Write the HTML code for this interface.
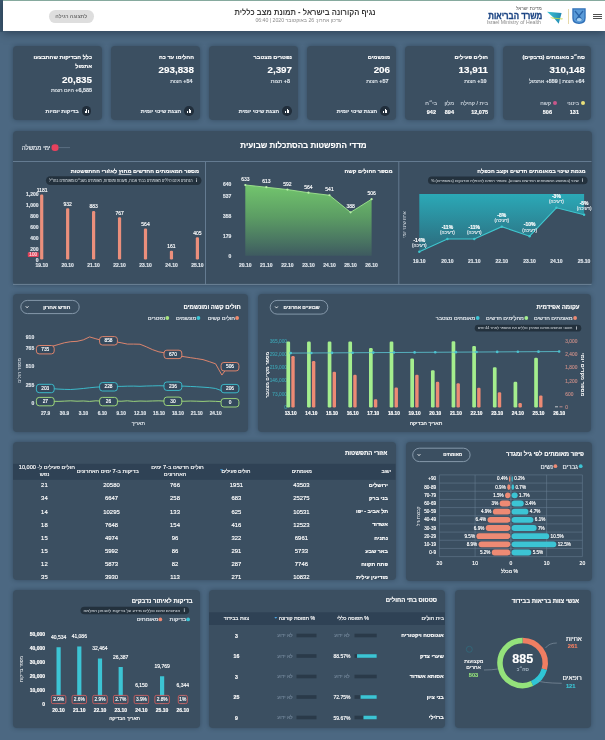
<!DOCTYPE html>
<html lang="he" dir="rtl">
<head>
<meta charset="utf-8">
<style>
*{box-sizing:border-box;margin:0;padding:0}
html,body{width:605px;height:740px;overflow:hidden}
body{background:#4c6882;font-family:"Liberation Sans","DejaVu Sans",sans-serif;color:#fff;position:relative}
.abs{position:absolute}
#hdr{position:absolute;left:3px;top:0;width:602px;height:31px;background:#fff;border-top:1px solid #86aa9e;box-shadow:0 2px 8px rgba(15,30,45,.5)}
.card{position:absolute;top:46px;width:89px;height:74px;background:#3b4f61;border-radius:4px;box-shadow:0 0 4px rgba(30,45,60,.5)}
.panel{position:absolute;background:#3b4f61;border-radius:4px;box-shadow:0 0 4px rgba(30,45,60,.5)}
.t{position:absolute;white-space:nowrap}
.ct{right:6px;top:7.4px;font-size:5.6px;font-weight:bold;line-height:8px}
.cn{right:6px;top:17.6px;font-size:9.8px;font-weight:bold;line-height:12px}
.cs{right:6px;top:32px;font-size:5.4px;color:#dfe6ec;line-height:6px}
.cb{position:absolute;right:6.5px;top:60px;height:10px;font-size:5.4px;font-weight:bold;color:#e8edf2;display:flex;align-items:center;gap:3px;white-space:nowrap}
.ic{width:9.4px;height:9.4px;border-radius:50%;background:#222f3c;display:inline-block;position:relative}
.ic i{position:absolute;bottom:2.8px;width:0.9px;background:#fff}
.cl{top:54px;font-size:5.5px;color:#c9d2db;line-height:7px}
.cv{top:62.8px;font-size:5.5px;font-weight:bold;line-height:7px}
.dot{display:inline-block;width:4px;height:4px;border-radius:50%;margin-left:2px;vertical-align:0}
.card .t,.cb{-webkit-text-stroke:0.15px currentColor}
svg text{font-family:"Liberation Sans","DejaVu Sans",sans-serif}
</style>
</head>
<body>
<div class="abs" style="left:0;top:0;width:3px;height:32px;background:#3d5870"></div>
<div id="hdr">
  <div class="t" style="right:229.4px;top:6px;font-size:8.4px;line-height:11px;font-weight:bold;color:#3b3b3b;transform:scaleX(0.907);transform-origin:right center">נגיף הקורונה בישראל - תמונת מצב כללית</div>
  <div class="t" style="right:263.2px;top:16.1px;font-size:5.2px;line-height:7px;color:#8a8a8a">עדכון אחרון: 26 באוקטובר 2020 | 06:40</div>
  <div class="t" style="left:45.7px;top:9.1px;width:45.1px;height:12.7px;border-radius:6.4px;background:#dedede;color:#6e6e6e;font-size:5.2px;font-weight:bold;text-align:center;line-height:12.7px">לתצוגה רגילה</div>
  <div class="t" style="right:63.2px;top:4.5px;font-size:4.7px;line-height:6px;color:#555">מדינת ישראל</div>
  <div class="t" style="right:62.3px;top:9.3px;font-size:9.4px;line-height:11.6px;font-weight:bold;color:#1c4584;-webkit-text-stroke:0.35px #1c4584;transform:scaleX(0.84);transform-origin:right center">משרד הבריאות</div>
  <div class="t" style="right:64.1px;top:17.8px;font-size:5.2px;line-height:6.6px;color:#8a8a8a;direction:ltr">Israel Ministry of Health</div>
  <svg class="abs" style="left:542px;top:8px" width="20" height="17" viewBox="0 0 20 17">
    <defs><linearGradient id="bg1" x1="0" y1="0" x2="1" y2="0"><stop offset="0" stop-color="#3cc3d3"/><stop offset="1" stop-color="#2288b2"/></linearGradient></defs>
    <path d="M2 2.8 L16.6 4 L13.7 14.8 L8.5 8.6 Z" fill="url(#bg1)"/>
    <path d="M5 8.2 L18 9.6 L17.2 10.4 L7 9.4 Z" fill="#c2d84a" opacity="0.85"/>
  </svg>
  <div class="abs" style="left:564.6px;top:7.5px;width:0.8px;height:15.5px;background:#e6d9a8"></div>
  <svg class="abs" style="left:568.8px;top:7.3px" width="14" height="16.2" viewBox="0 0 14 16.2">
    <path d="M0.3 0.3 H13.7 V10 Q13.7 15.8 7 16 Q0.3 15.8 0.3 10 Z" fill="#2f6fb7"/>
    <path d="M1.6 1.6 H12.4 V9.8 Q12.4 14.5 7 14.7 Q1.6 14.5 1.6 9.8 Z" fill="#5a9bd8"/>
    <path d="M3 3 L7 8 L11 3 M7 8 L4 12 M7 8 L10 12" stroke="#2a64a8" stroke-width="1.3" fill="none"/>
    <ellipse cx="7.3" cy="11.6" rx="2.6" ry="1.6" fill="#a9d2f2"/>
  </svg>
  <div class="abs" style="left:590px;top:12.7px;width:9px;height:1.3px;background:#505050"></div>
  <div class="abs" style="left:590px;top:14.9px;width:9px;height:1.3px;background:#505050"></div>
  <div class="abs" style="left:590px;top:17.2px;width:9px;height:1.3px;background:#505050"></div>
</div>

<div class="card" style="left:13px">
  <div class="t ct" style="right:10px;top:7px;line-height:9.4px;text-align:right">כלל הבדיקות שהתבצעו<br>אתמול</div>
  <div class="t cn" style="right:10px;top:27.6px">20,835</div>
  <div class="t cs" style="right:10px;top:41.4px"><b dir="ltr">+6,585</b> היום חצות</div>
  <div class="cb" style="right:11px"><span class="ic"><i style="left:3.1px;height:2px"></i><i style="left:4.7px;height:4.2px"></i><i style="left:6.3px;height:3px"></i></span><span>בדיקות יומיות</span></div>
</div>
<div class="card" style="left:111px">
  <div class="t ct">החלימו עד כה</div>
  <div class="t cn">293,838</div>
  <div class="t cs" style="right:7.5px"><b dir="ltr">+54</b> חצות</div>
  <div class="cb"><span class="ic"><i style="left:3.1px;height:2px"></i><i style="left:4.7px;height:4.2px"></i><i style="left:6.3px;height:3px"></i></span><span>הצגת שינוי יומית</span></div>
</div>
<div class="card" style="left:209px">
  <div class="t ct">נפטרים מצטבר</div>
  <div class="t cn">2,397</div>
  <div class="t cs" style="right:8px"><b dir="ltr">+8</b> חצות</div>
  <div class="cb"><span class="ic"><i style="left:3.1px;height:2px"></i><i style="left:4.7px;height:4.2px"></i><i style="left:6.3px;height:3px"></i></span><span>הצגת שינוי יומית</span></div>
</div>
<div class="card" style="left:307px">
  <div class="t ct">מונשמים</div>
  <div class="t cn">206</div>
  <div class="t cs" style="right:7.5px"><b dir="ltr">+57</b> חצות</div>
  <div class="cb"><span class="ic"><i style="left:3.1px;height:2px"></i><i style="left:4.7px;height:4.2px"></i><i style="left:6.3px;height:3px"></i></span><span>הצגת שינוי יומית</span></div>
</div>
<div class="card" style="left:405px">
  <div class="t ct">חולים פעילים</div>
  <div class="t cn">13,911</div>
  <div class="t cs" style="right:7.5px"><b dir="ltr">+10</b> חצות</div>
  <div class="t cl" style="right:6px">בית / קהילה</div><div class="t cv" style="right:6px">12,075</div>
  <div class="t cl" style="right:40px">מלון</div><div class="t cv" style="right:40px">894</div>
  <div class="t cl" style="right:57px">בי״ח</div><div class="t cv" style="right:58px">942</div>
</div>
<div class="card" style="left:503px;width:88px">
  <div class="t ct">סה״כ מאומתים (נדבקים)</div>
  <div class="t cn">310,148</div>
  <div class="t cs" style="right:6.5px"><b dir="ltr">+64</b> חצות | <b dir="ltr">+559</b> אתמול</div>
  <div class="t cl" style="right:6px"><span class="dot" style="background:#e9e07a"></span>בינוני</div><div class="t cv" style="right:12px">131</div>
  <div class="t cl" style="right:34px"><span class="dot" style="background:#c9578a"></span>קשה</div><div class="t cv" style="right:39px">506</div>
</div>

<div class="panel" style="left:13px;top:130.5px;width:578.5px;height:154.5px"></div>
<div class="panel" style="left:13px;top:294px;width:234.5px;height:138px"></div>
<div class="panel" style="left:257.8px;top:294px;width:333.7px;height:138px"></div>
<div class="panel" style="left:13px;top:442.3px;width:382.5px;height:138px"></div>
<div class="panel" style="left:405.5px;top:442.3px;width:186px;height:138.3px"></div>
<div class="panel" style="left:13px;top:589.7px;width:186.8px;height:138px"></div>
<div class="panel" style="left:209px;top:589.7px;width:235.9px;height:138px"></div>
<div class="panel" style="left:454.8px;top:589.7px;width:136.7px;height:138.3px"></div>
<!--OV--><svg class="abs" style="left:0;top:0;direction:ltr" direction="ltr" width="605" height="740" viewBox="0 0 605 740"><defs><linearGradient id="ggr" x1="0" y1="0" x2="0" y2="1"><stop offset="0" stop-color="#72c56d"/><stop offset="0.45" stop-color="#5c9d64"/><stop offset="0.8" stop-color="#497462"/><stop offset="1" stop-color="#3e5a60"/></linearGradient><linearGradient id="tgr" x1="0" y1="0" x2="0" y2="1"><stop offset="0" stop-color="#2ba9b7"/><stop offset="1" stop-color="#2c697b"/></linearGradient></defs><text x="303.50" y="145.60" font-size="8" fill="#ffffff" stroke="#ffffff" stroke-width="0.15" text-anchor="middle" direction="rtl" dominant-baseline="central" font-weight="bold">מדדי התפשטות בהסתכלות שבועית</text><rect x="51.50" y="144.30" width="7.10" height="6.60" rx="3.2" fill="#e8415d"/><line x1="58.6" y1="147.6" x2="70" y2="147.6" stroke="#7b8fa2" stroke-width="0.5"/><text x="50.40" y="147.20" font-size="6.1" fill="#e6ebf0" stroke="#e6ebf0" stroke-width="0.15" text-anchor="start" direction="rtl" dominant-baseline="central">ימי ממשלה</text><line x1="13" y1="161.5" x2="591.5" y2="161.5" stroke="#647b91" stroke-width="1"/><line x1="205.5" y1="161.5" x2="205.5" y2="284.4" stroke="#647b91" stroke-width="1"/><line x1="398.8" y1="161.5" x2="398.8" y2="284.4" stroke="#647b91" stroke-width="1"/><line x1="13" y1="284.4" x2="591.5" y2="284.4" stroke="#6d8398" stroke-width="1"/><text x="199.00" y="171.10" font-size="5.6" fill="#ffffff" stroke="#ffffff" stroke-width="0.15" text-anchor="start" direction="rtl" dominant-baseline="central" font-weight="bold">מספר המאומתים החדשים <tspan text-decoration="underline">מחוץ</tspan> לאזורי ההתפשטות</text><rect x="45.90" y="176.30" width="155.60" height="8.60" rx="4.3" fill="#222f3b" opacity="0.92"/><rect x="196.20" y="179.40" width="0.7" height="2.6" fill="#e8edf2"/><rect x="196.20" y="178.40" width="0.7" height="0.6" fill="#e8edf2"/><text x="192.50" y="180.60" font-size="4.2" fill="#e3e9ee" text-anchor="end" dominant-baseline="central" textLength="143.60" lengthAdjust="spacingAndGlyphs">הנתונים אינם כוללים מאומתים בבתי אבות, מעונות ומוסדות, מאומתים בשב״ס ומאומתים בחו״ל</text><text x="38.50" y="259.50" font-size="5" fill="#dfe5eb" stroke="#dfe5eb" stroke-width="0.15" text-anchor="end" dominant-baseline="central" font-weight="bold">0</text><text x="38.50" y="248.50" font-size="5" fill="#dfe5eb" stroke="#dfe5eb" stroke-width="0.15" text-anchor="end" dominant-baseline="central" font-weight="bold">200</text><text x="38.50" y="237.50" font-size="5" fill="#dfe5eb" stroke="#dfe5eb" stroke-width="0.15" text-anchor="end" dominant-baseline="central" font-weight="bold">400</text><text x="38.50" y="226.50" font-size="5" fill="#dfe5eb" stroke="#dfe5eb" stroke-width="0.15" text-anchor="end" dominant-baseline="central" font-weight="bold">600</text><text x="38.50" y="215.50" font-size="5" fill="#dfe5eb" stroke="#dfe5eb" stroke-width="0.15" text-anchor="end" dominant-baseline="central" font-weight="bold">800</text><text x="38.50" y="204.50" font-size="5" fill="#dfe5eb" stroke="#dfe5eb" stroke-width="0.15" text-anchor="end" dominant-baseline="central" font-weight="bold">1,000</text><text x="38.50" y="193.50" font-size="5" fill="#dfe5eb" stroke="#dfe5eb" stroke-width="0.15" text-anchor="end" dominant-baseline="central" font-weight="bold">1,200</text><rect x="27.80" y="252.20" width="10.90" height="4.80" rx="0.8" fill="#e0435a"/><text x="33.20" y="254.60" font-size="4.6" fill="#ffd8de" stroke="#ffd8de" stroke-width="0.15" text-anchor="middle" dominant-baseline="central">100</text><rect x="40.10" y="194.55" width="3.20" height="64.95" rx="1.2" fill="#eb8f7c"/><text x="42.20" y="190.05" font-size="5" fill="#ffffff" stroke="#ffffff" stroke-width="0.15" text-anchor="middle" dominant-baseline="central">1181</text><text x="41.70" y="264.80" font-size="5" fill="#dfe5eb" stroke="#dfe5eb" stroke-width="0.15" text-anchor="middle" dominant-baseline="central" font-weight="bold">19.10</text><rect x="66.05" y="208.24" width="3.20" height="51.26" rx="1.2" fill="#eb8f7c"/><text x="67.65" y="203.74" font-size="5" fill="#ffffff" stroke="#ffffff" stroke-width="0.15" text-anchor="middle" dominant-baseline="central">932</text><text x="67.65" y="264.80" font-size="5" fill="#dfe5eb" stroke="#dfe5eb" stroke-width="0.15" text-anchor="middle" dominant-baseline="central" font-weight="bold">20.10</text><rect x="92.00" y="210.94" width="3.20" height="48.56" rx="1.2" fill="#eb8f7c"/><text x="93.60" y="206.44" font-size="5" fill="#ffffff" stroke="#ffffff" stroke-width="0.15" text-anchor="middle" dominant-baseline="central">883</text><text x="93.60" y="264.80" font-size="5" fill="#dfe5eb" stroke="#dfe5eb" stroke-width="0.15" text-anchor="middle" dominant-baseline="central" font-weight="bold">21.10</text><rect x="117.95" y="217.31" width="3.20" height="42.19" rx="1.2" fill="#eb8f7c"/><text x="119.55" y="212.81" font-size="5" fill="#ffffff" stroke="#ffffff" stroke-width="0.15" text-anchor="middle" dominant-baseline="central">767</text><text x="119.55" y="264.80" font-size="5" fill="#dfe5eb" stroke="#dfe5eb" stroke-width="0.15" text-anchor="middle" dominant-baseline="central" font-weight="bold">22.10</text><rect x="143.90" y="228.48" width="3.20" height="31.02" rx="1.2" fill="#eb8f7c"/><text x="145.50" y="223.98" font-size="5" fill="#ffffff" stroke="#ffffff" stroke-width="0.15" text-anchor="middle" dominant-baseline="central">564</text><text x="145.50" y="264.80" font-size="5" fill="#dfe5eb" stroke="#dfe5eb" stroke-width="0.15" text-anchor="middle" dominant-baseline="central" font-weight="bold">23.10</text><rect x="169.85" y="250.65" width="3.20" height="8.85" rx="1.2" fill="#eb8f7c"/><text x="171.45" y="246.15" font-size="5" fill="#ffffff" stroke="#ffffff" stroke-width="0.15" text-anchor="middle" dominant-baseline="central">161</text><text x="171.45" y="264.80" font-size="5" fill="#dfe5eb" stroke="#dfe5eb" stroke-width="0.15" text-anchor="middle" dominant-baseline="central" font-weight="bold">24.10</text><rect x="195.80" y="237.22" width="3.20" height="22.28" rx="1.2" fill="#eb8f7c"/><text x="197.40" y="232.72" font-size="5" fill="#ffffff" stroke="#ffffff" stroke-width="0.15" text-anchor="middle" dominant-baseline="central">405</text><text x="197.40" y="264.80" font-size="5" fill="#dfe5eb" stroke="#dfe5eb" stroke-width="0.15" text-anchor="middle" dominant-baseline="central" font-weight="bold">25.10</text><text x="392.50" y="171.10" font-size="5.6" fill="#ffffff" stroke="#ffffff" stroke-width="0.15" text-anchor="start" direction="rtl" dominant-baseline="central" font-weight="bold">מספר החולים קשה</text><text x="231.40" y="255.70" font-size="5" fill="#dfe5eb" stroke="#dfe5eb" stroke-width="0.15" text-anchor="end" dominant-baseline="central" font-weight="bold">0</text><text x="231.40" y="235.70" font-size="5" fill="#dfe5eb" stroke="#dfe5eb" stroke-width="0.15" text-anchor="end" dominant-baseline="central" font-weight="bold">179</text><text x="231.40" y="215.70" font-size="5" fill="#dfe5eb" stroke="#dfe5eb" stroke-width="0.15" text-anchor="end" dominant-baseline="central" font-weight="bold">358</text><text x="231.40" y="195.71" font-size="5" fill="#dfe5eb" stroke="#dfe5eb" stroke-width="0.15" text-anchor="end" dominant-baseline="central" font-weight="bold">537</text><text x="231.40" y="184.20" font-size="5" fill="#dfe5eb" stroke="#dfe5eb" stroke-width="0.15" text-anchor="end" dominant-baseline="central" font-weight="bold">640</text><path d="M245.30 184.98 L266.35 187.22 L287.40 189.56 L308.45 192.69 L329.50 195.26 L350.55 212.35 L371.60 199.17 L371.60 255.7 L245.30 255.7 Z" fill="url(#ggr)"/><path d="M245.30 184.98 L266.35 187.22 L287.40 189.56 L308.45 192.69 L329.50 195.26 L350.55 212.35 L371.60 199.17" fill="none" stroke="#9fe38f" stroke-width="0.9"/><circle cx="245.30" cy="184.98" r="1.1" fill="#b9f0a8"/><text x="245.30" y="178.98" font-size="5" fill="#ffffff" stroke="#ffffff" stroke-width="0.15" text-anchor="middle" dominant-baseline="central">633</text><text x="245.30" y="264.70" font-size="5" fill="#dfe5eb" stroke="#dfe5eb" stroke-width="0.15" text-anchor="middle" dominant-baseline="central" font-weight="bold">20.10</text><circle cx="266.35" cy="187.22" r="1.1" fill="#b9f0a8"/><text x="266.35" y="181.22" font-size="5" fill="#ffffff" stroke="#ffffff" stroke-width="0.15" text-anchor="middle" dominant-baseline="central">613</text><text x="266.35" y="264.70" font-size="5" fill="#dfe5eb" stroke="#dfe5eb" stroke-width="0.15" text-anchor="middle" dominant-baseline="central" font-weight="bold">21.10</text><circle cx="287.40" cy="189.56" r="1.1" fill="#b9f0a8"/><text x="287.40" y="183.56" font-size="5" fill="#ffffff" stroke="#ffffff" stroke-width="0.15" text-anchor="middle" dominant-baseline="central">592</text><text x="287.40" y="264.70" font-size="5" fill="#dfe5eb" stroke="#dfe5eb" stroke-width="0.15" text-anchor="middle" dominant-baseline="central" font-weight="bold">22.10</text><circle cx="308.45" cy="192.69" r="1.1" fill="#b9f0a8"/><text x="308.45" y="186.69" font-size="5" fill="#ffffff" stroke="#ffffff" stroke-width="0.15" text-anchor="middle" dominant-baseline="central">564</text><text x="308.45" y="264.70" font-size="5" fill="#dfe5eb" stroke="#dfe5eb" stroke-width="0.15" text-anchor="middle" dominant-baseline="central" font-weight="bold">23.10</text><circle cx="329.50" cy="195.26" r="1.1" fill="#b9f0a8"/><text x="329.50" y="189.26" font-size="5" fill="#ffffff" stroke="#ffffff" stroke-width="0.15" text-anchor="middle" dominant-baseline="central">541</text><text x="329.50" y="264.70" font-size="5" fill="#dfe5eb" stroke="#dfe5eb" stroke-width="0.15" text-anchor="middle" dominant-baseline="central" font-weight="bold">24.10</text><circle cx="350.55" cy="212.35" r="1.1" fill="#b9f0a8"/><text x="350.55" y="206.35" font-size="5" fill="#ffffff" stroke="#ffffff" stroke-width="0.15" text-anchor="middle" dominant-baseline="central">388</text><text x="350.55" y="264.70" font-size="5" fill="#dfe5eb" stroke="#dfe5eb" stroke-width="0.15" text-anchor="middle" dominant-baseline="central" font-weight="bold">25.10</text><circle cx="371.60" cy="199.17" r="1.1" fill="#b9f0a8"/><text x="371.60" y="193.17" font-size="5" fill="#ffffff" stroke="#ffffff" stroke-width="0.15" text-anchor="middle" dominant-baseline="central">506</text><text x="371.60" y="264.70" font-size="5" fill="#dfe5eb" stroke="#dfe5eb" stroke-width="0.15" text-anchor="middle" dominant-baseline="central" font-weight="bold">26.10</text><text x="585.70" y="171.00" font-size="5.6" fill="#ffffff" stroke="#ffffff" stroke-width="0.15" text-anchor="start" direction="rtl" dominant-baseline="central" font-weight="bold">מגמת שינוי במאומתים חדשים וקצב הכפלה</text><rect x="428.00" y="176.60" width="159.60" height="7.60" rx="3.8" fill="#222f3b" opacity="0.92"/><rect x="582.30" y="179.20" width="0.7" height="2.6" fill="#e8edf2"/><rect x="582.30" y="178.20" width="0.7" height="0.6" fill="#e8edf2"/><text x="578.60" y="180.40" font-size="4.0" fill="#e3e9ee" text-anchor="end" dominant-baseline="central" textLength="147.60" lengthAdjust="spacingAndGlyphs">% שינוי (בממוצע המאומתים החדשים בשבוע), ומספר הימים להכפלת הנדבקים (במספרים)</text><text transform="translate(404.50,224.60) rotate(-90)" font-size="4.55" fill="#dfe5eb" text-anchor="middle" dominant-baseline="central">אחוז שינוי יומי</text><path d="M419.3 193.9 L584.1 193.9 L584.10 214.80 L556.40 207.80 L529.60 236.20 L501.80 226.70 L474.30 239.00 L447.40 239.00 L419.30 251.70 Z" fill="url(#tgr)"/><path d="M419.30 251.70 L447.40 239.00 L474.30 239.00 L501.80 226.70 L529.60 236.20 L556.40 207.80 L584.10 214.80" fill="none" stroke="#3fc7cf" stroke-width="1.1"/><circle cx="419.30" cy="251.70" r="1.2" fill="#3fc7cf"/><text x="419.30" y="239.70" font-size="5" fill="#ffffff" stroke="#ffffff" stroke-width="0.15" text-anchor="middle" dominant-baseline="central" font-weight="bold">-14%</text><text x="419.30" y="245.50" font-size="4.6" fill="#e5ebf0" stroke="#e5ebf0" stroke-width="0.15" text-anchor="middle" direction="rtl" dominant-baseline="central">(דעיכה)</text><text x="419.30" y="260.60" font-size="5" fill="#dfe5eb" stroke="#dfe5eb" stroke-width="0.15" text-anchor="middle" dominant-baseline="central" font-weight="bold">19.10</text><circle cx="447.40" cy="239.00" r="1.2" fill="#3fc7cf"/><text x="447.40" y="227.00" font-size="5" fill="#ffffff" stroke="#ffffff" stroke-width="0.15" text-anchor="middle" dominant-baseline="central" font-weight="bold">-11%</text><text x="447.40" y="232.80" font-size="4.6" fill="#e5ebf0" stroke="#e5ebf0" stroke-width="0.15" text-anchor="middle" direction="rtl" dominant-baseline="central">(דעיכה)</text><text x="447.40" y="260.60" font-size="5" fill="#dfe5eb" stroke="#dfe5eb" stroke-width="0.15" text-anchor="middle" dominant-baseline="central" font-weight="bold">20.10</text><circle cx="474.30" cy="239.00" r="1.2" fill="#3fc7cf"/><text x="474.30" y="227.00" font-size="5" fill="#ffffff" stroke="#ffffff" stroke-width="0.15" text-anchor="middle" dominant-baseline="central" font-weight="bold">-11%</text><text x="474.30" y="232.80" font-size="4.6" fill="#e5ebf0" stroke="#e5ebf0" stroke-width="0.15" text-anchor="middle" direction="rtl" dominant-baseline="central">(דעיכה)</text><text x="474.30" y="260.60" font-size="5" fill="#dfe5eb" stroke="#dfe5eb" stroke-width="0.15" text-anchor="middle" dominant-baseline="central" font-weight="bold">21.10</text><circle cx="501.80" cy="226.70" r="1.2" fill="#3fc7cf"/><text x="501.80" y="214.70" font-size="5" fill="#ffffff" stroke="#ffffff" stroke-width="0.15" text-anchor="middle" dominant-baseline="central" font-weight="bold">-8%</text><text x="501.80" y="220.50" font-size="4.6" fill="#e5ebf0" stroke="#e5ebf0" stroke-width="0.15" text-anchor="middle" direction="rtl" dominant-baseline="central">(דעיכה)</text><text x="501.80" y="260.60" font-size="5" fill="#dfe5eb" stroke="#dfe5eb" stroke-width="0.15" text-anchor="middle" dominant-baseline="central" font-weight="bold">22.10</text><circle cx="529.60" cy="236.20" r="1.2" fill="#3fc7cf"/><text x="529.60" y="224.20" font-size="5" fill="#ffffff" stroke="#ffffff" stroke-width="0.15" text-anchor="middle" dominant-baseline="central" font-weight="bold">-10%</text><text x="529.60" y="230.00" font-size="4.6" fill="#e5ebf0" stroke="#e5ebf0" stroke-width="0.15" text-anchor="middle" direction="rtl" dominant-baseline="central">(דעיכה)</text><text x="529.60" y="260.60" font-size="5" fill="#dfe5eb" stroke="#dfe5eb" stroke-width="0.15" text-anchor="middle" dominant-baseline="central" font-weight="bold">23.10</text><circle cx="556.40" cy="207.80" r="1.2" fill="#3fc7cf"/><text x="556.40" y="195.80" font-size="5" fill="#ffffff" stroke="#ffffff" stroke-width="0.15" text-anchor="middle" dominant-baseline="central" font-weight="bold">-3%</text><text x="556.40" y="201.60" font-size="4.6" fill="#e5ebf0" stroke="#e5ebf0" stroke-width="0.15" text-anchor="middle" direction="rtl" dominant-baseline="central">(דעיכה)</text><text x="556.40" y="260.60" font-size="5" fill="#dfe5eb" stroke="#dfe5eb" stroke-width="0.15" text-anchor="middle" dominant-baseline="central" font-weight="bold">24.10</text><circle cx="584.10" cy="214.80" r="1.2" fill="#3fc7cf"/><text x="584.10" y="202.80" font-size="5" fill="#ffffff" stroke="#ffffff" stroke-width="0.15" text-anchor="middle" dominant-baseline="central" font-weight="bold">-5%</text><text x="584.10" y="208.60" font-size="4.6" fill="#e5ebf0" stroke="#e5ebf0" stroke-width="0.15" text-anchor="middle" direction="rtl" dominant-baseline="central">(דעיכה)</text><text x="584.10" y="260.60" font-size="5" fill="#dfe5eb" stroke="#dfe5eb" stroke-width="0.15" text-anchor="middle" dominant-baseline="central" font-weight="bold">25.10</text><text x="240.80" y="307.00" font-size="6" fill="#ffffff" stroke="#ffffff" stroke-width="0.15" text-anchor="start" direction="rtl" dominant-baseline="central" font-weight="bold">חולים קשה ומונשמים</text><circle cx="237.10" cy="318.00" r="1.9" fill="#f08a6c"/><text x="235.00" y="317.80" font-size="5.6" fill="#e9eef3" stroke="#e9eef3" stroke-width="0.15" text-anchor="start" direction="rtl" dominant-baseline="central">חולים קשים</text><circle cx="198.40" cy="318.00" r="1.9" fill="#3cc4d4"/><text x="196.30" y="317.80" font-size="5.6" fill="#e9eef3" stroke="#e9eef3" stroke-width="0.15" text-anchor="start" direction="rtl" dominant-baseline="central">מונשמים</text><circle cx="167.30" cy="318.00" r="1.9" fill="#a6e27e"/><text x="165.10" y="317.80" font-size="5.6" fill="#e9eef3" stroke="#e9eef3" stroke-width="0.15" text-anchor="start" direction="rtl" dominant-baseline="central">נפטרים</text><rect x="20.80" y="300.40" width="58.40" height="13.20" rx="6.600000000000023" fill="none" stroke="#8da0b2" stroke-width="0.9"/><text x="70.30" y="306.80" font-size="5.2" fill="#ffffff" stroke="#ffffff" stroke-width="0.15" text-anchor="start" direction="rtl" dominant-baseline="central" font-weight="bold">חודש אחרון</text><path d="M25.70 306.20 L27.10 307.80 L28.50 306.20" stroke="#fff" stroke-width="0.8" fill="none"/><text x="34.20" y="403.00" font-size="5" fill="#dfe5eb" stroke="#dfe5eb" stroke-width="0.15" text-anchor="end" dominant-baseline="central" font-weight="bold">0</text><text x="34.20" y="384.50" font-size="5" fill="#dfe5eb" stroke="#dfe5eb" stroke-width="0.15" text-anchor="end" dominant-baseline="central" font-weight="bold">255</text><text x="34.20" y="366.00" font-size="5" fill="#dfe5eb" stroke="#dfe5eb" stroke-width="0.15" text-anchor="end" dominant-baseline="central" font-weight="bold">510</text><text x="34.20" y="347.50" font-size="5" fill="#dfe5eb" stroke="#dfe5eb" stroke-width="0.15" text-anchor="end" dominant-baseline="central" font-weight="bold">765</text><text x="34.20" y="336.98" font-size="5" fill="#dfe5eb" stroke="#dfe5eb" stroke-width="0.15" text-anchor="end" dominant-baseline="central" font-weight="bold">910</text><text transform="translate(19.90,370.60) rotate(-90)" font-size="4.85" fill="#dfe5eb" text-anchor="middle" dominant-baseline="central">מספר חולים</text><text x="45.60" y="413.50" font-size="4.8" fill="#dfe5eb" stroke="#dfe5eb" stroke-width="0.15" text-anchor="middle" dominant-baseline="central" font-weight="bold">27.9</text><text x="64.50" y="413.50" font-size="4.8" fill="#dfe5eb" stroke="#dfe5eb" stroke-width="0.15" text-anchor="middle" dominant-baseline="central" font-weight="bold">30.9</text><text x="83.40" y="413.50" font-size="4.8" fill="#dfe5eb" stroke="#dfe5eb" stroke-width="0.15" text-anchor="middle" dominant-baseline="central" font-weight="bold">3.10</text><text x="102.30" y="413.50" font-size="4.8" fill="#dfe5eb" stroke="#dfe5eb" stroke-width="0.15" text-anchor="middle" dominant-baseline="central" font-weight="bold">6.10</text><text x="121.20" y="413.50" font-size="4.8" fill="#dfe5eb" stroke="#dfe5eb" stroke-width="0.15" text-anchor="middle" dominant-baseline="central" font-weight="bold">9.10</text><text x="140.10" y="413.50" font-size="4.8" fill="#dfe5eb" stroke="#dfe5eb" stroke-width="0.15" text-anchor="middle" dominant-baseline="central" font-weight="bold">12.10</text><text x="159.00" y="413.50" font-size="4.8" fill="#dfe5eb" stroke="#dfe5eb" stroke-width="0.15" text-anchor="middle" dominant-baseline="central" font-weight="bold">15.10</text><text x="177.90" y="413.50" font-size="4.8" fill="#dfe5eb" stroke="#dfe5eb" stroke-width="0.15" text-anchor="middle" dominant-baseline="central" font-weight="bold">18.10</text><text x="196.80" y="413.50" font-size="4.8" fill="#dfe5eb" stroke="#dfe5eb" stroke-width="0.15" text-anchor="middle" dominant-baseline="central" font-weight="bold">21.10</text><text x="215.70" y="413.50" font-size="4.8" fill="#dfe5eb" stroke="#dfe5eb" stroke-width="0.15" text-anchor="middle" dominant-baseline="central" font-weight="bold">24.10</text><text x="138.30" y="423.00" font-size="5" fill="#dfe5eb" stroke="#dfe5eb" stroke-width="0.15" text-anchor="middle" direction="rtl" dominant-baseline="central">תאריך</text><path d="M45.50 349.68 L51.80 346.41 L58.10 344.60 L64.40 342.78 L70.70 341.70 L77.00 341.33 L83.30 339.88 L89.60 336.91 L95.90 338.79 L102.20 340.46 L108.50 340.75 L114.80 341.70 L121.10 342.78 L127.40 344.09 L133.70 344.09 L140.00 344.23 L146.30 346.77 L152.60 349.68 L158.90 351.85 L165.20 352.94 L171.50 354.39 L177.80 355.48 L184.10 356.71 L190.40 357.66 L196.70 358.60 L203.00 359.62 L209.30 361.65 L215.60 363.82 L221.90 375.07 L228.20 366.29" fill="none" stroke="#ee8a6e" stroke-width="0.9" stroke-linejoin="round"/><path d="M45.50 388.27 L51.80 388.64 L58.10 389.07 L64.40 389.36 L70.70 389.51 L77.00 389.07 L83.30 388.49 L89.60 387.76 L95.90 387.18 L102.20 386.75 L108.50 386.46 L114.80 386.31 L121.10 386.39 L127.40 386.17 L133.70 386.10 L140.00 386.31 L146.30 386.02 L152.60 385.88 L158.90 385.73 L165.20 385.88 L171.50 385.88 L177.80 385.95 L184.10 386.17 L190.40 386.46 L196.70 386.75 L203.00 387.18 L209.30 387.62 L215.60 388.49 L221.90 390.81 L228.20 388.05" fill="none" stroke="#3cc4d4" stroke-width="0.9" stroke-linejoin="round"/><path d="M45.50 401.04 L51.80 401.26 L58.10 401.40 L64.40 401.11 L70.70 400.82 L77.00 401.19 L83.30 400.97 L89.60 401.40 L95.90 400.82 L102.20 401.11 L108.50 401.11 L114.80 400.97 L121.10 401.26 L127.40 400.82 L133.70 401.40 L140.00 401.04 L146.30 401.19 L152.60 400.97 L158.90 400.82 L165.20 401.11 L171.50 400.82 L177.80 400.97 L184.10 401.26 L190.40 401.04 L196.70 401.19 L203.00 401.40 L209.30 401.11 L215.60 401.33 L221.90 401.69 L228.20 403.00" fill="none" stroke="#a6e27e" stroke-width="0.9" stroke-linejoin="round"/><rect x="36.40" y="345.50" width="17.80" height="8.40" rx="2.8" fill="#34495d" stroke="#ee8a6e" stroke-width="0.9"/><text x="45.30" y="349.70" font-size="4.8" fill="#ffffff" stroke="#ffffff" stroke-width="0.15" text-anchor="middle" dominant-baseline="central">735</text><rect x="36.40" y="384.30" width="17.80" height="8.40" rx="2.8" fill="#34495d" stroke="#3cc4d4" stroke-width="0.9"/><text x="45.30" y="388.50" font-size="4.8" fill="#ffffff" stroke="#ffffff" stroke-width="0.15" text-anchor="middle" dominant-baseline="central">203</text><rect x="36.40" y="397.40" width="17.80" height="8.40" rx="2.8" fill="#34495d" stroke="#a6e27e" stroke-width="0.9"/><text x="45.30" y="401.60" font-size="4.8" fill="#ffffff" stroke="#ffffff" stroke-width="0.15" text-anchor="middle" dominant-baseline="central">27</text><rect x="99.60" y="336.60" width="17.80" height="8.40" rx="2.8" fill="#34495d" stroke="#ee8a6e" stroke-width="0.9"/><text x="108.50" y="340.80" font-size="4.8" fill="#ffffff" stroke="#ffffff" stroke-width="0.15" text-anchor="middle" dominant-baseline="central">858</text><rect x="99.60" y="382.60" width="17.80" height="8.40" rx="2.8" fill="#34495d" stroke="#3cc4d4" stroke-width="0.9"/><text x="108.50" y="386.80" font-size="4.8" fill="#ffffff" stroke="#ffffff" stroke-width="0.15" text-anchor="middle" dominant-baseline="central">228</text><rect x="99.60" y="397.40" width="17.80" height="8.40" rx="2.8" fill="#34495d" stroke="#a6e27e" stroke-width="0.9"/><text x="108.50" y="401.60" font-size="4.8" fill="#ffffff" stroke="#ffffff" stroke-width="0.15" text-anchor="middle" dominant-baseline="central">26</text><rect x="164.00" y="350.20" width="17.80" height="8.40" rx="2.8" fill="#34495d" stroke="#ee8a6e" stroke-width="0.9"/><text x="172.90" y="354.40" font-size="4.8" fill="#ffffff" stroke="#ffffff" stroke-width="0.15" text-anchor="middle" dominant-baseline="central">670</text><rect x="164.00" y="382.00" width="17.80" height="8.40" rx="2.8" fill="#34495d" stroke="#3cc4d4" stroke-width="0.9"/><text x="172.90" y="386.20" font-size="4.8" fill="#ffffff" stroke="#ffffff" stroke-width="0.15" text-anchor="middle" dominant-baseline="central">236</text><rect x="164.00" y="397.10" width="17.80" height="8.40" rx="2.8" fill="#34495d" stroke="#a6e27e" stroke-width="0.9"/><text x="172.90" y="401.30" font-size="4.8" fill="#ffffff" stroke="#ffffff" stroke-width="0.15" text-anchor="middle" dominant-baseline="central">30</text><rect x="221.10" y="362.50" width="17.80" height="8.40" rx="2.8" fill="#34495d" stroke="#ee8a6e" stroke-width="0.9"/><text x="230.00" y="366.70" font-size="4.8" fill="#ffffff" stroke="#ffffff" stroke-width="0.15" text-anchor="middle" dominant-baseline="central">506</text><rect x="221.10" y="384.40" width="17.80" height="8.40" rx="2.8" fill="#34495d" stroke="#3cc4d4" stroke-width="0.9"/><text x="230.00" y="388.60" font-size="4.8" fill="#ffffff" stroke="#ffffff" stroke-width="0.15" text-anchor="middle" dominant-baseline="central">206</text><rect x="221.10" y="398.60" width="17.80" height="8.40" rx="2.8" fill="#34495d" stroke="#a6e27e" stroke-width="0.9"/><text x="230.00" y="402.80" font-size="4.8" fill="#ffffff" stroke="#ffffff" stroke-width="0.15" text-anchor="middle" dominant-baseline="central">0</text><text x="579.60" y="306.60" font-size="6" fill="#ffffff" stroke="#ffffff" stroke-width="0.15" text-anchor="start" direction="rtl" dominant-baseline="central" font-weight="bold">עקומה אפידמית</text><circle cx="575.10" cy="318.00" r="1.9" fill="#ed8a74"/><text x="572.60" y="317.80" font-size="5.5" fill="#e9eef3" stroke="#e9eef3" stroke-width="0.15" text-anchor="start" direction="rtl" dominant-baseline="central">מאומתים חדשים</text><circle cx="526.30" cy="318.00" r="1.9" fill="#a4ee8e"/><text x="523.80" y="317.80" font-size="5.5" fill="#e9eef3" stroke="#e9eef3" stroke-width="0.15" text-anchor="start" direction="rtl" dominant-baseline="central">מחלימים חדשים</text><circle cx="477.70" cy="318.00" r="1.9" fill="#3cc4d4"/><text x="475.20" y="317.80" font-size="5.5" fill="#e9eef3" stroke="#e9eef3" stroke-width="0.15" text-anchor="start" direction="rtl" dominant-baseline="central">מאומתים מצטבר</text><rect x="474.70" y="324.80" width="106.60" height="6.80" rx="3.4" fill="#222f3b" opacity="0.92"/><rect x="576.00" y="327.00" width="0.7" height="2.6" fill="#e8edf2"/><rect x="576.00" y="326.00" width="0.7" height="0.6" fill="#e8edf2"/><text x="572.30" y="328.20" font-size="3.8" fill="#e3e9ee" text-anchor="end" dominant-baseline="central" textLength="94.60" lengthAdjust="spacingAndGlyphs">חשוב: הנתונים מהיום האחרון כוללים את המספר לאחר 44 ימים</text><rect x="270.20" y="300.40" width="57.60" height="13.70" rx="6.850000000000023" fill="none" stroke="#8da0b2" stroke-width="0.9"/><text x="319.70" y="307.05" font-size="4.75" fill="#ffffff" stroke="#ffffff" stroke-width="0.15" text-anchor="start" direction="rtl" dominant-baseline="central" font-weight="bold">שבועיים אחרונים</text><path d="M275.10 306.45 L276.50 308.05 L277.90 306.45" stroke="#fff" stroke-width="0.8" fill="none"/><text x="287.00" y="407.50" font-size="4.8" fill="#3d9aaa" stroke="#3d9aaa" stroke-width="0.15" text-anchor="end" dominant-baseline="central">0</text><text x="287.00" y="394.20" font-size="4.8" fill="#3d9aaa" stroke="#3d9aaa" stroke-width="0.15" text-anchor="end" dominant-baseline="central">73,000</text><text x="287.00" y="380.90" font-size="4.8" fill="#3d9aaa" stroke="#3d9aaa" stroke-width="0.15" text-anchor="end" dominant-baseline="central">146,000</text><text x="287.00" y="367.60" font-size="4.8" fill="#3d9aaa" stroke="#3d9aaa" stroke-width="0.15" text-anchor="end" dominant-baseline="central">219,000</text><text x="287.00" y="354.30" font-size="4.8" fill="#3d9aaa" stroke="#3d9aaa" stroke-width="0.15" text-anchor="end" dominant-baseline="central">292,000</text><text x="287.00" y="341.00" font-size="4.8" fill="#3d9aaa" stroke="#3d9aaa" stroke-width="0.15" text-anchor="end" dominant-baseline="central">365,000</text><text x="565.30" y="407.50" font-size="4.8" fill="#c08a86" stroke="#c08a86" stroke-width="0.15" text-anchor="start" dominant-baseline="central">0</text><text x="565.30" y="394.25" font-size="4.8" fill="#c08a86" stroke="#c08a86" stroke-width="0.15" text-anchor="start" dominant-baseline="central">600</text><text x="565.30" y="381.00" font-size="4.8" fill="#c08a86" stroke="#c08a86" stroke-width="0.15" text-anchor="start" dominant-baseline="central">1,200</text><text x="565.30" y="367.75" font-size="4.8" fill="#c08a86" stroke="#c08a86" stroke-width="0.15" text-anchor="start" dominant-baseline="central">1,800</text><text x="565.30" y="354.50" font-size="4.8" fill="#c08a86" stroke="#c08a86" stroke-width="0.15" text-anchor="start" dominant-baseline="central">2,400</text><text x="565.30" y="341.25" font-size="4.8" fill="#c08a86" stroke="#c08a86" stroke-width="0.15" text-anchor="start" dominant-baseline="central">3,000</text><text transform="translate(267.20,375.00) rotate(-90)" font-size="4.9" fill="#ffffff" text-anchor="middle" dominant-baseline="central" font-weight="bold">מספר מקרים מצטבר</text><text transform="translate(583.20,374.70) rotate(90)" font-size="5.6" fill="#ffffff" text-anchor="middle" dominant-baseline="central" font-weight="bold">מספר מקרים יומי</text><rect x="286.40" y="341.60" width="3.70" height="65.90" rx="1.2" fill="#a4ee8e"/><rect x="291.30" y="356.10" width="3.40" height="51.40" rx="1.2" fill="#ed8a74"/><text x="290.70" y="413.60" font-size="4.8" fill="#ffffff" stroke="#ffffff" stroke-width="0.15" text-anchor="middle" dominant-baseline="central" font-weight="bold">13.10</text><rect x="307.05" y="341.60" width="3.70" height="65.90" rx="1.2" fill="#a4ee8e"/><rect x="311.95" y="361.00" width="3.40" height="46.50" rx="1.2" fill="#ed8a74"/><text x="311.35" y="413.60" font-size="4.8" fill="#ffffff" stroke="#ffffff" stroke-width="0.15" text-anchor="middle" dominant-baseline="central" font-weight="bold">14.10</text><rect x="327.70" y="341.60" width="3.70" height="65.90" rx="1.2" fill="#a4ee8e"/><rect x="332.60" y="371.80" width="3.40" height="35.70" rx="1.2" fill="#ed8a74"/><text x="332.00" y="413.60" font-size="4.8" fill="#ffffff" stroke="#ffffff" stroke-width="0.15" text-anchor="middle" dominant-baseline="central" font-weight="bold">15.10</text><rect x="348.35" y="341.60" width="3.70" height="65.90" rx="1.2" fill="#a4ee8e"/><rect x="353.25" y="374.80" width="3.40" height="32.70" rx="1.2" fill="#ed8a74"/><text x="352.65" y="413.60" font-size="4.8" fill="#ffffff" stroke="#ffffff" stroke-width="0.15" text-anchor="middle" dominant-baseline="central" font-weight="bold">16.10</text><rect x="369.00" y="348.00" width="3.70" height="59.50" rx="1.2" fill="#a4ee8e"/><rect x="373.90" y="399.20" width="3.40" height="8.30" rx="1.2" fill="#ed8a74"/><text x="373.30" y="413.60" font-size="4.8" fill="#ffffff" stroke="#ffffff" stroke-width="0.15" text-anchor="middle" dominant-baseline="central" font-weight="bold">17.10</text><rect x="389.65" y="341.60" width="3.70" height="65.90" rx="1.2" fill="#a4ee8e"/><rect x="394.55" y="387.60" width="3.40" height="19.90" rx="1.2" fill="#ed8a74"/><text x="393.95" y="413.60" font-size="4.8" fill="#ffffff" stroke="#ffffff" stroke-width="0.15" text-anchor="middle" dominant-baseline="central" font-weight="bold">18.10</text><rect x="410.30" y="358.50" width="3.70" height="49.00" rx="1.2" fill="#a4ee8e"/><rect x="415.20" y="374.80" width="3.40" height="32.70" rx="1.2" fill="#ed8a74"/><text x="414.60" y="413.60" font-size="4.8" fill="#ffffff" stroke="#ffffff" stroke-width="0.15" text-anchor="middle" dominant-baseline="central" font-weight="bold">19.10</text><rect x="430.95" y="370.30" width="3.70" height="37.20" rx="1.2" fill="#a4ee8e"/><rect x="435.85" y="381.70" width="3.40" height="25.80" rx="1.2" fill="#ed8a74"/><text x="435.25" y="413.60" font-size="4.8" fill="#ffffff" stroke="#ffffff" stroke-width="0.15" text-anchor="middle" dominant-baseline="central" font-weight="bold">20.10</text><rect x="451.60" y="341.30" width="3.70" height="66.20" rx="1.2" fill="#a4ee8e"/><rect x="456.50" y="383.20" width="3.40" height="24.30" rx="1.2" fill="#ed8a74"/><text x="455.90" y="413.60" font-size="4.8" fill="#ffffff" stroke="#ffffff" stroke-width="0.15" text-anchor="middle" dominant-baseline="central" font-weight="bold">21.10</text><rect x="472.25" y="345.90" width="3.70" height="61.60" rx="1.2" fill="#a4ee8e"/><rect x="477.15" y="387.80" width="3.40" height="19.70" rx="1.2" fill="#ed8a74"/><text x="476.55" y="413.60" font-size="4.8" fill="#ffffff" stroke="#ffffff" stroke-width="0.15" text-anchor="middle" dominant-baseline="central" font-weight="bold">22.10</text><rect x="492.90" y="367.30" width="3.70" height="40.20" rx="1.2" fill="#a4ee8e"/><rect x="497.80" y="392.30" width="3.40" height="15.20" rx="1.2" fill="#ed8a74"/><text x="497.20" y="413.60" font-size="4.8" fill="#ffffff" stroke="#ffffff" stroke-width="0.15" text-anchor="middle" dominant-baseline="central" font-weight="bold">23.10</text><rect x="513.55" y="381.70" width="3.70" height="25.80" rx="1.2" fill="#a4ee8e"/><rect x="518.45" y="403.00" width="3.40" height="4.50" rx="1.2" fill="#ed8a74"/><text x="517.85" y="413.60" font-size="4.8" fill="#ffffff" stroke="#ffffff" stroke-width="0.15" text-anchor="middle" dominant-baseline="central" font-weight="bold">24.10</text><rect x="534.20" y="357.80" width="3.70" height="49.70" rx="1.2" fill="#a4ee8e"/><rect x="539.10" y="395.40" width="3.40" height="12.10" rx="1.2" fill="#ed8a74"/><text x="538.50" y="413.60" font-size="4.8" fill="#ffffff" stroke="#ffffff" stroke-width="0.15" text-anchor="middle" dominant-baseline="central" font-weight="bold">25.10</text><text x="559.15" y="413.60" font-size="4.8" fill="#ffffff" stroke="#ffffff" stroke-width="0.15" text-anchor="middle" dominant-baseline="central" font-weight="bold">26.10</text><path d="M290.70 353.10 L311.35 352.98 L332.00 352.86 L352.65 352.74 L373.30 352.62 L393.95 352.50 L414.60 352.38 L435.25 352.26 L455.90 352.14 L476.55 352.02 L497.20 351.90 L517.85 351.78 L538.50 351.66 L559.15 351.54" fill="none" stroke="#5cc6d2" stroke-width="0.9" opacity="0.9"/><circle cx="290.70" cy="353.10" r="1.3" fill="#4cc3d0"/><circle cx="311.35" cy="352.98" r="1.3" fill="#4cc3d0"/><circle cx="332.00" cy="352.86" r="1.3" fill="#4cc3d0"/><circle cx="352.65" cy="352.74" r="1.3" fill="#4cc3d0"/><circle cx="373.30" cy="352.62" r="1.3" fill="#4cc3d0"/><circle cx="393.95" cy="352.50" r="1.3" fill="#4cc3d0"/><circle cx="414.60" cy="352.38" r="1.3" fill="#4cc3d0"/><circle cx="435.25" cy="352.26" r="1.3" fill="#4cc3d0"/><circle cx="455.90" cy="352.14" r="1.3" fill="#4cc3d0"/><circle cx="476.55" cy="352.02" r="1.3" fill="#4cc3d0"/><circle cx="497.20" cy="351.90" r="1.3" fill="#4cc3d0"/><circle cx="517.85" cy="351.78" r="1.3" fill="#4cc3d0"/><circle cx="538.50" cy="351.66" r="1.3" fill="#4cc3d0"/><circle cx="559.15" cy="351.54" r="1.3" fill="#4cc3d0"/><line x1="555" y1="406.8" x2="558" y2="406.8" stroke="#e6e6e6" stroke-width="0.8"/><line x1="559.5" y1="406.8" x2="562.5" y2="406.8" stroke="#d99a9a" stroke-width="0.8"/><text x="426.00" y="422.80" font-size="5.3" fill="#ffffff" stroke="#ffffff" stroke-width="0.15" text-anchor="middle" direction="rtl" dominant-baseline="central">תאריך הבדיקה</text><text x="387.40" y="452.80" font-size="6" fill="#ffffff" stroke="#ffffff" stroke-width="0.15" text-anchor="start" direction="rtl" dominant-baseline="central" font-weight="bold">אזורי התפשטות</text><rect x="13.00" y="463.80" width="382.50" height="16.00" rx="0" fill="#2f4255"/><text x="391.00" y="471.30" font-size="5.2" fill="#ffffff" stroke="#ffffff" stroke-width="0.15" text-anchor="start" direction="rtl" dominant-baseline="central">ישוב</text><text x="301.70" y="471.30" font-size="5.2" fill="#ffffff" stroke="#ffffff" stroke-width="0.15" text-anchor="middle" direction="rtl" dominant-baseline="central">מאומתים</text><text x="236.00" y="471.30" font-size="5.2" fill="#ffffff" stroke="#ffffff" stroke-width="0.15" text-anchor="middle" direction="rtl" dominant-baseline="central">חולים פעילים</text><path d="M220 469.3 L223 469.3 L221.5 471.1 Z" fill="#4aa3e0"/><text x="177.50" y="467.10" font-size="5.6" fill="#ffffff" stroke="#ffffff" stroke-width="0.15" text-anchor="middle" direction="rtl" dominant-baseline="central">חולים חדשים ב-7 ימים</text><text x="175.00" y="473.60" font-size="5.6" fill="#ffffff" stroke="#ffffff" stroke-width="0.15" text-anchor="middle" direction="rtl" dominant-baseline="central">האחרונים</text><text x="107.80" y="471.30" font-size="5.6" fill="#ffffff" stroke="#ffffff" stroke-width="0.15" text-anchor="middle" direction="rtl" dominant-baseline="central">בדיקות ב-7 ימים האחרונים</text><text x="46.80" y="467.10" font-size="5.6" fill="#ffffff" stroke="#ffffff" stroke-width="0.15" text-anchor="middle" direction="rtl" dominant-baseline="central">חולים פעילים ל- 10,000</text><text x="44.50" y="473.60" font-size="5.6" fill="#ffffff" stroke="#ffffff" stroke-width="0.15" text-anchor="middle" direction="rtl" dominant-baseline="central">נפש</text><text x="388.00" y="485.10" font-size="5.4" fill="#ffffff" stroke="#ffffff" stroke-width="0.15" text-anchor="start" direction="rtl" dominant-baseline="central" font-weight="bold">ירושלים</text><text x="301.40" y="485.30" font-size="5.9" fill="#ffffff" stroke="#ffffff" stroke-width="0.15" text-anchor="middle" dominant-baseline="central">43503</text><text x="236.40" y="485.30" font-size="5.9" fill="#ffffff" stroke="#ffffff" stroke-width="0.15" text-anchor="middle" dominant-baseline="central">1951</text><text x="175.00" y="485.30" font-size="5.9" fill="#ffffff" stroke="#ffffff" stroke-width="0.15" text-anchor="middle" dominant-baseline="central">766</text><text x="111.50" y="485.30" font-size="5.9" fill="#ffffff" stroke="#ffffff" stroke-width="0.15" text-anchor="middle" dominant-baseline="central">20580</text><text x="44.40" y="485.30" font-size="5.9" fill="#ffffff" stroke="#ffffff" stroke-width="0.15" text-anchor="middle" dominant-baseline="central">21</text><text x="388.00" y="498.23" font-size="5.4" fill="#ffffff" stroke="#ffffff" stroke-width="0.15" text-anchor="start" direction="rtl" dominant-baseline="central" font-weight="bold">בני ברק</text><text x="301.40" y="498.43" font-size="5.9" fill="#ffffff" stroke="#ffffff" stroke-width="0.15" text-anchor="middle" dominant-baseline="central">25275</text><text x="236.40" y="498.43" font-size="5.9" fill="#ffffff" stroke="#ffffff" stroke-width="0.15" text-anchor="middle" dominant-baseline="central">683</text><text x="175.00" y="498.43" font-size="5.9" fill="#ffffff" stroke="#ffffff" stroke-width="0.15" text-anchor="middle" dominant-baseline="central">258</text><text x="111.50" y="498.43" font-size="5.9" fill="#ffffff" stroke="#ffffff" stroke-width="0.15" text-anchor="middle" dominant-baseline="central">6647</text><text x="44.40" y="498.43" font-size="5.9" fill="#ffffff" stroke="#ffffff" stroke-width="0.15" text-anchor="middle" dominant-baseline="central">34</text><text x="388.00" y="511.36" font-size="5.4" fill="#ffffff" stroke="#ffffff" stroke-width="0.15" text-anchor="start" direction="rtl" dominant-baseline="central" font-weight="bold">תל אביב - יפו</text><text x="301.40" y="511.56" font-size="5.9" fill="#ffffff" stroke="#ffffff" stroke-width="0.15" text-anchor="middle" dominant-baseline="central">10531</text><text x="236.40" y="511.56" font-size="5.9" fill="#ffffff" stroke="#ffffff" stroke-width="0.15" text-anchor="middle" dominant-baseline="central">625</text><text x="175.00" y="511.56" font-size="5.9" fill="#ffffff" stroke="#ffffff" stroke-width="0.15" text-anchor="middle" dominant-baseline="central">133</text><text x="111.50" y="511.56" font-size="5.9" fill="#ffffff" stroke="#ffffff" stroke-width="0.15" text-anchor="middle" dominant-baseline="central">10295</text><text x="44.40" y="511.56" font-size="5.9" fill="#ffffff" stroke="#ffffff" stroke-width="0.15" text-anchor="middle" dominant-baseline="central">14</text><text x="388.00" y="524.49" font-size="5.4" fill="#ffffff" stroke="#ffffff" stroke-width="0.15" text-anchor="start" direction="rtl" dominant-baseline="central" font-weight="bold">אשדוד</text><text x="301.40" y="524.69" font-size="5.9" fill="#ffffff" stroke="#ffffff" stroke-width="0.15" text-anchor="middle" dominant-baseline="central">12523</text><text x="236.40" y="524.69" font-size="5.9" fill="#ffffff" stroke="#ffffff" stroke-width="0.15" text-anchor="middle" dominant-baseline="central">416</text><text x="175.00" y="524.69" font-size="5.9" fill="#ffffff" stroke="#ffffff" stroke-width="0.15" text-anchor="middle" dominant-baseline="central">154</text><text x="111.50" y="524.69" font-size="5.9" fill="#ffffff" stroke="#ffffff" stroke-width="0.15" text-anchor="middle" dominant-baseline="central">7648</text><text x="44.40" y="524.69" font-size="5.9" fill="#ffffff" stroke="#ffffff" stroke-width="0.15" text-anchor="middle" dominant-baseline="central">18</text><text x="388.00" y="537.62" font-size="5.4" fill="#ffffff" stroke="#ffffff" stroke-width="0.15" text-anchor="start" direction="rtl" dominant-baseline="central" font-weight="bold">נתניה</text><text x="301.40" y="537.82" font-size="5.9" fill="#ffffff" stroke="#ffffff" stroke-width="0.15" text-anchor="middle" dominant-baseline="central">6961</text><text x="236.40" y="537.82" font-size="5.9" fill="#ffffff" stroke="#ffffff" stroke-width="0.15" text-anchor="middle" dominant-baseline="central">322</text><text x="175.00" y="537.82" font-size="5.9" fill="#ffffff" stroke="#ffffff" stroke-width="0.15" text-anchor="middle" dominant-baseline="central">96</text><text x="111.50" y="537.82" font-size="5.9" fill="#ffffff" stroke="#ffffff" stroke-width="0.15" text-anchor="middle" dominant-baseline="central">4974</text><text x="44.40" y="537.82" font-size="5.9" fill="#ffffff" stroke="#ffffff" stroke-width="0.15" text-anchor="middle" dominant-baseline="central">15</text><text x="388.00" y="550.75" font-size="5.4" fill="#ffffff" stroke="#ffffff" stroke-width="0.15" text-anchor="start" direction="rtl" dominant-baseline="central" font-weight="bold">באר שבע</text><text x="301.40" y="550.95" font-size="5.9" fill="#ffffff" stroke="#ffffff" stroke-width="0.15" text-anchor="middle" dominant-baseline="central">5733</text><text x="236.40" y="550.95" font-size="5.9" fill="#ffffff" stroke="#ffffff" stroke-width="0.15" text-anchor="middle" dominant-baseline="central">291</text><text x="175.00" y="550.95" font-size="5.9" fill="#ffffff" stroke="#ffffff" stroke-width="0.15" text-anchor="middle" dominant-baseline="central">86</text><text x="111.50" y="550.95" font-size="5.9" fill="#ffffff" stroke="#ffffff" stroke-width="0.15" text-anchor="middle" dominant-baseline="central">5992</text><text x="44.40" y="550.95" font-size="5.9" fill="#ffffff" stroke="#ffffff" stroke-width="0.15" text-anchor="middle" dominant-baseline="central">15</text><text x="388.00" y="563.88" font-size="5.4" fill="#ffffff" stroke="#ffffff" stroke-width="0.15" text-anchor="start" direction="rtl" dominant-baseline="central" font-weight="bold">פתח תקווה</text><text x="301.40" y="564.08" font-size="5.9" fill="#ffffff" stroke="#ffffff" stroke-width="0.15" text-anchor="middle" dominant-baseline="central">7746</text><text x="236.40" y="564.08" font-size="5.9" fill="#ffffff" stroke="#ffffff" stroke-width="0.15" text-anchor="middle" dominant-baseline="central">287</text><text x="175.00" y="564.08" font-size="5.9" fill="#ffffff" stroke="#ffffff" stroke-width="0.15" text-anchor="middle" dominant-baseline="central">82</text><text x="111.50" y="564.08" font-size="5.9" fill="#ffffff" stroke="#ffffff" stroke-width="0.15" text-anchor="middle" dominant-baseline="central">5873</text><text x="44.40" y="564.08" font-size="5.9" fill="#ffffff" stroke="#ffffff" stroke-width="0.15" text-anchor="middle" dominant-baseline="central">12</text><text x="388.00" y="577.01" font-size="5.4" fill="#ffffff" stroke="#ffffff" stroke-width="0.15" text-anchor="start" direction="rtl" dominant-baseline="central" font-weight="bold">מודיעין עילית</text><text x="301.40" y="577.21" font-size="5.9" fill="#ffffff" stroke="#ffffff" stroke-width="0.15" text-anchor="middle" dominant-baseline="central">10832</text><text x="236.40" y="577.21" font-size="5.9" fill="#ffffff" stroke="#ffffff" stroke-width="0.15" text-anchor="middle" dominant-baseline="central">271</text><text x="175.00" y="577.21" font-size="5.9" fill="#ffffff" stroke="#ffffff" stroke-width="0.15" text-anchor="middle" dominant-baseline="central">113</text><text x="111.50" y="577.21" font-size="5.9" fill="#ffffff" stroke="#ffffff" stroke-width="0.15" text-anchor="middle" dominant-baseline="central">3930</text><text x="44.40" y="577.21" font-size="5.9" fill="#ffffff" stroke="#ffffff" stroke-width="0.15" text-anchor="middle" dominant-baseline="central">35</text><text x="584.00" y="453.80" font-size="6" fill="#ffffff" stroke="#ffffff" stroke-width="0.15" text-anchor="start" direction="rtl" dominant-baseline="central" font-weight="bold">פיזור מאומתים לפי גיל ומגדר</text><circle cx="580.70" cy="466.20" r="1.9" fill="#3cc4d4"/><text x="577.80" y="466.00" font-size="6.2" fill="#e9eef3" stroke="#e9eef3" stroke-width="0.15" text-anchor="start" direction="rtl" dominant-baseline="central">גברים</text><circle cx="555.40" cy="466.20" r="1.9" fill="#ed8a74"/><text x="553.00" y="466.00" font-size="6.2" fill="#e9eef3" stroke="#e9eef3" stroke-width="0.15" text-anchor="start" direction="rtl" dominant-baseline="central">נשים</text><rect x="412.70" y="448.20" width="57.40" height="13.40" rx="6.700000000000017" fill="none" stroke="#8da0b2" stroke-width="0.9"/><text x="462.00" y="454.70" font-size="4.5" fill="#ffffff" stroke="#ffffff" stroke-width="0.15" text-anchor="start" direction="rtl" dominant-baseline="central" font-weight="bold">מאומתים</text><path d="M417.60 454.10 L419.00 455.70 L420.40 454.10" stroke="#fff" stroke-width="0.8" fill="none"/><line x1="439.4" y1="474.9" x2="439.4" y2="556.6" stroke="#6a8196" stroke-width="0.5"/><line x1="475.1" y1="474.9" x2="475.1" y2="556.6" stroke="#6a8196" stroke-width="0.5"/><line x1="510.9" y1="474.9" x2="510.9" y2="556.6" stroke="#8fa2b4" stroke-width="0.5"/><line x1="546.6" y1="474.9" x2="546.6" y2="556.6" stroke="#6a8196" stroke-width="0.5"/><line x1="582.4" y1="474.9" x2="582.4" y2="556.6" stroke="#6a8196" stroke-width="0.5"/><line x1="439.4" y1="474.9" x2="582.4" y2="474.9" stroke="#6a8196" stroke-width="0.5"/><line x1="439.4" y1="483.07" x2="582.4" y2="483.07" stroke="#6a8196" stroke-width="0.5"/><line x1="439.4" y1="491.24" x2="582.4" y2="491.24" stroke="#6a8196" stroke-width="0.5"/><line x1="439.4" y1="499.41" x2="582.4" y2="499.41" stroke="#6a8196" stroke-width="0.5"/><line x1="439.4" y1="507.58" x2="582.4" y2="507.58" stroke="#6a8196" stroke-width="0.5"/><line x1="439.4" y1="515.75" x2="582.4" y2="515.75" stroke="#6a8196" stroke-width="0.5"/><line x1="439.4" y1="523.92" x2="582.4" y2="523.92" stroke="#6a8196" stroke-width="0.5"/><line x1="439.4" y1="532.09" x2="582.4" y2="532.09" stroke="#6a8196" stroke-width="0.5"/><line x1="439.4" y1="540.26" x2="582.4" y2="540.26" stroke="#6a8196" stroke-width="0.5"/><line x1="439.4" y1="548.43" x2="582.4" y2="548.43" stroke="#6a8196" stroke-width="0.5"/><line x1="439.4" y1="556.6" x2="582.4" y2="556.6" stroke="#6a8196" stroke-width="0.5"/><text x="436.00" y="478.98" font-size="4.6" fill="#ffffff" stroke="#ffffff" stroke-width="0.15" text-anchor="end" dominant-baseline="central">+90</text><rect x="508.97" y="476.08" width="1.43" height="5.80" rx="2.9" fill="#ed8a74"/><rect x="511.60" y="476.08" width="1.20" height="5.80" rx="2.9" fill="#3cc4d4"/><text x="507.57" y="478.98" font-size="4.6" fill="#ffffff" stroke="#ffffff" stroke-width="0.15" text-anchor="end" dominant-baseline="central">0.4%</text><text x="514.20" y="478.98" font-size="4.6" fill="#ffffff" stroke="#ffffff" stroke-width="0.15" text-anchor="start" dominant-baseline="central">0.2%</text><text x="436.00" y="487.15" font-size="4.6" fill="#ffffff" stroke="#ffffff" stroke-width="0.15" text-anchor="end" dominant-baseline="central">80-89</text><rect x="507.18" y="484.25" width="3.22" height="5.80" rx="2.9" fill="#ed8a74"/><rect x="511.60" y="484.25" width="2.51" height="5.80" rx="2.9" fill="#3cc4d4"/><text x="505.78" y="487.15" font-size="4.6" fill="#ffffff" stroke="#ffffff" stroke-width="0.15" text-anchor="end" dominant-baseline="central">0.9%</text><text x="515.51" y="487.15" font-size="4.6" fill="#ffffff" stroke="#ffffff" stroke-width="0.15" text-anchor="start" dominant-baseline="central">0.7%</text><text x="436.00" y="495.32" font-size="4.6" fill="#ffffff" stroke="#ffffff" stroke-width="0.15" text-anchor="end" dominant-baseline="central">70-79</text><rect x="505.03" y="492.43" width="5.37" height="5.80" rx="2.9" fill="#ed8a74"/><rect x="511.60" y="492.43" width="6.09" height="5.80" rx="2.9" fill="#3cc4d4"/><text x="503.63" y="495.32" font-size="4.6" fill="#ffffff" stroke="#ffffff" stroke-width="0.15" text-anchor="end" dominant-baseline="central">1.5%</text><text x="519.09" y="495.32" font-size="4.6" fill="#ffffff" stroke="#ffffff" stroke-width="0.15" text-anchor="start" dominant-baseline="central">1.7%</text><text x="436.00" y="503.50" font-size="4.6" fill="#ffffff" stroke="#ffffff" stroke-width="0.15" text-anchor="end" dominant-baseline="central">60-69</text><rect x="499.66" y="500.60" width="10.74" height="5.80" rx="2.9" fill="#ed8a74"/><rect x="511.60" y="500.60" width="12.17" height="5.80" rx="2.9" fill="#3cc4d4"/><text x="498.26" y="503.50" font-size="4.6" fill="#ffffff" stroke="#ffffff" stroke-width="0.15" text-anchor="end" dominant-baseline="central">3%</text><text x="525.17" y="503.50" font-size="4.6" fill="#ffffff" stroke="#ffffff" stroke-width="0.15" text-anchor="start" dominant-baseline="central">3.4%</text><text x="436.00" y="511.67" font-size="4.6" fill="#ffffff" stroke="#ffffff" stroke-width="0.15" text-anchor="end" dominant-baseline="central">50-59</text><rect x="492.86" y="508.77" width="17.54" height="5.80" rx="2.9" fill="#ed8a74"/><rect x="511.60" y="508.77" width="16.83" height="5.80" rx="2.9" fill="#3cc4d4"/><text x="491.46" y="511.67" font-size="4.6" fill="#ffffff" stroke="#ffffff" stroke-width="0.15" text-anchor="end" dominant-baseline="central">4.9%</text><text x="529.83" y="511.67" font-size="4.6" fill="#ffffff" stroke="#ffffff" stroke-width="0.15" text-anchor="start" dominant-baseline="central">4.7%</text><text x="436.00" y="519.84" font-size="4.6" fill="#ffffff" stroke="#ffffff" stroke-width="0.15" text-anchor="end" dominant-baseline="central">40-49</text><rect x="487.49" y="516.94" width="22.91" height="5.80" rx="2.9" fill="#ed8a74"/><rect x="511.60" y="516.94" width="21.84" height="5.80" rx="2.9" fill="#3cc4d4"/><text x="486.09" y="519.84" font-size="4.6" fill="#ffffff" stroke="#ffffff" stroke-width="0.15" text-anchor="end" dominant-baseline="central">6.4%</text><text x="534.84" y="519.84" font-size="4.6" fill="#ffffff" stroke="#ffffff" stroke-width="0.15" text-anchor="start" dominant-baseline="central">6.1%</text><text x="436.00" y="528.00" font-size="4.6" fill="#ffffff" stroke="#ffffff" stroke-width="0.15" text-anchor="end" dominant-baseline="central">30-39</text><rect x="485.70" y="525.11" width="24.70" height="5.80" rx="2.9" fill="#ed8a74"/><rect x="511.60" y="525.11" width="25.06" height="5.80" rx="2.9" fill="#3cc4d4"/><text x="484.30" y="528.00" font-size="4.6" fill="#ffffff" stroke="#ffffff" stroke-width="0.15" text-anchor="end" dominant-baseline="central">6.9%</text><text x="538.06" y="528.00" font-size="4.6" fill="#ffffff" stroke="#ffffff" stroke-width="0.15" text-anchor="start" dominant-baseline="central">7%</text><text x="436.00" y="536.17" font-size="4.6" fill="#ffffff" stroke="#ffffff" stroke-width="0.15" text-anchor="end" dominant-baseline="central">20-29</text><rect x="476.39" y="533.27" width="34.01" height="5.80" rx="2.9" fill="#ed8a74"/><rect x="511.60" y="533.27" width="37.59" height="5.80" rx="2.9" fill="#3cc4d4"/><text x="474.99" y="536.17" font-size="4.6" fill="#ffffff" stroke="#ffffff" stroke-width="0.15" text-anchor="end" dominant-baseline="central">9.5%</text><text x="550.59" y="536.17" font-size="4.6" fill="#ffffff" stroke="#ffffff" stroke-width="0.15" text-anchor="start" dominant-baseline="central">10.5%</text><text x="436.00" y="544.35" font-size="4.6" fill="#ffffff" stroke="#ffffff" stroke-width="0.15" text-anchor="end" dominant-baseline="central">10-19</text><rect x="478.54" y="541.45" width="31.86" height="5.80" rx="2.9" fill="#ed8a74"/><rect x="511.60" y="541.45" width="44.75" height="5.80" rx="2.9" fill="#3cc4d4"/><text x="477.14" y="544.35" font-size="4.6" fill="#ffffff" stroke="#ffffff" stroke-width="0.15" text-anchor="end" dominant-baseline="central">8.9%</text><text x="557.75" y="544.35" font-size="4.6" fill="#ffffff" stroke="#ffffff" stroke-width="0.15" text-anchor="start" dominant-baseline="central">12.5%</text><text x="436.00" y="552.51" font-size="4.6" fill="#ffffff" stroke="#ffffff" stroke-width="0.15" text-anchor="end" dominant-baseline="central">0-9</text><rect x="491.78" y="549.62" width="18.62" height="5.80" rx="2.9" fill="#ed8a74"/><rect x="511.60" y="549.62" width="19.69" height="5.80" rx="2.9" fill="#3cc4d4"/><text x="490.38" y="552.51" font-size="4.6" fill="#ffffff" stroke="#ffffff" stroke-width="0.15" text-anchor="end" dominant-baseline="central">5.2%</text><text x="532.69" y="552.51" font-size="4.6" fill="#ffffff" stroke="#ffffff" stroke-width="0.15" text-anchor="start" dominant-baseline="central">5.5%</text><text x="439.40" y="563.30" font-size="5" fill="#ffffff" stroke="#ffffff" stroke-width="0.15" text-anchor="middle" dominant-baseline="central">20</text><text x="475.15" y="563.30" font-size="5" fill="#ffffff" stroke="#ffffff" stroke-width="0.15" text-anchor="middle" dominant-baseline="central">10</text><text x="510.90" y="563.30" font-size="5" fill="#ffffff" stroke="#ffffff" stroke-width="0.15" text-anchor="middle" dominant-baseline="central">0</text><text x="546.65" y="563.30" font-size="5" fill="#ffffff" stroke="#ffffff" stroke-width="0.15" text-anchor="middle" dominant-baseline="central">10</text><text x="582.40" y="563.30" font-size="5" fill="#ffffff" stroke="#ffffff" stroke-width="0.15" text-anchor="middle" dominant-baseline="central">20</text><text x="509.50" y="571.10" font-size="5" fill="#ffffff" stroke="#ffffff" stroke-width="0.15" text-anchor="middle" direction="rtl" dominant-baseline="central">% מכלל</text><text transform="translate(418.00,516.30) rotate(-90)" font-size="4.67" fill="#ffffff" text-anchor="middle" dominant-baseline="central">קבוצת גיל</text><text x="192.60" y="600.60" font-size="6" fill="#ffffff" stroke="#ffffff" stroke-width="0.15" text-anchor="start" direction="rtl" dominant-baseline="central" font-weight="bold">בדיקות לאיתור נדבקים</text><rect x="80.50" y="606.70" width="108.70" height="7.60" rx="3.8" fill="#222f3b" opacity="0.92"/><rect x="183.90" y="609.30" width="0.7" height="2.6" fill="#e8edf2"/><rect x="183.90" y="608.30" width="0.7" height="0.6" fill="#e8edf2"/><text x="180.20" y="610.50" font-size="4.0" fill="#e3e9ee" text-anchor="end" dominant-baseline="central" textLength="96.70" lengthAdjust="spacingAndGlyphs">הנתונים אינם כוללים מידע על בדיקות לאבחון החלמה</text><circle cx="188.10" cy="619.40" r="1.9" fill="#3cc4d4"/><text x="186.10" y="619.20" font-size="5.6" fill="#e9eef3" stroke="#e9eef3" stroke-width="0.15" text-anchor="start" direction="rtl" dominant-baseline="central">בדיקות</text><circle cx="160.30" cy="619.40" r="1.9" fill="#ed8a74"/><text x="158.30" y="619.20" font-size="5.6" fill="#e9eef3" stroke="#e9eef3" stroke-width="0.15" text-anchor="start" direction="rtl" dominant-baseline="central">מאומתים</text><text x="45.10" y="703.90" font-size="5" fill="#ffffff" stroke="#ffffff" stroke-width="0.15" text-anchor="end" dominant-baseline="central" font-weight="bold">0</text><text x="45.10" y="689.92" font-size="5" fill="#ffffff" stroke="#ffffff" stroke-width="0.15" text-anchor="end" dominant-baseline="central" font-weight="bold">10,000</text><text x="45.10" y="675.94" font-size="5" fill="#ffffff" stroke="#ffffff" stroke-width="0.15" text-anchor="end" dominant-baseline="central" font-weight="bold">20,000</text><text x="45.10" y="661.96" font-size="5" fill="#ffffff" stroke="#ffffff" stroke-width="0.15" text-anchor="end" dominant-baseline="central" font-weight="bold">30,000</text><text x="45.10" y="647.98" font-size="5" fill="#ffffff" stroke="#ffffff" stroke-width="0.15" text-anchor="end" dominant-baseline="central" font-weight="bold">40,000</text><text x="45.10" y="634.00" font-size="5" fill="#ffffff" stroke="#ffffff" stroke-width="0.15" text-anchor="end" dominant-baseline="central" font-weight="bold">50,000</text><text transform="translate(21.10,669.00) rotate(-90)" font-size="4.54" fill="#ffffff" text-anchor="middle" dominant-baseline="central">מספר בדיקות</text><rect x="56.50" y="647.23" width="4.20" height="56.67" rx="0" fill="#3cc4d4"/><text x="58.60" y="636.73" font-size="5" fill="#ffffff" stroke="#ffffff" stroke-width="0.15" text-anchor="middle" dominant-baseline="central">40,534</text><rect x="51.35" y="695.40" width="14.50" height="8.20" rx="1.5" fill="#3b4f61" stroke="#e0605e" stroke-width="0.8"/><text x="58.60" y="699.60" font-size="4.8" fill="#ffffff" stroke="#ffffff" stroke-width="0.15" text-anchor="middle" dominant-baseline="central">2.9%</text><text x="58.60" y="710.20" font-size="5" fill="#ffffff" stroke="#ffffff" stroke-width="0.15" text-anchor="middle" dominant-baseline="central" font-weight="bold">20.10</text><rect x="77.20" y="646.46" width="4.20" height="57.44" rx="0" fill="#3cc4d4"/><text x="79.30" y="635.96" font-size="5" fill="#ffffff" stroke="#ffffff" stroke-width="0.15" text-anchor="middle" dominant-baseline="central">41,086</text><rect x="72.05" y="695.40" width="14.50" height="8.20" rx="1.5" fill="#3b4f61" stroke="#e0605e" stroke-width="0.8"/><text x="79.30" y="699.60" font-size="4.8" fill="#ffffff" stroke="#ffffff" stroke-width="0.15" text-anchor="middle" dominant-baseline="central">2.6%</text><text x="79.30" y="710.20" font-size="5" fill="#ffffff" stroke="#ffffff" stroke-width="0.15" text-anchor="middle" dominant-baseline="central" font-weight="bold">21.10</text><rect x="97.90" y="658.52" width="4.20" height="45.38" rx="0" fill="#3cc4d4"/><text x="100.00" y="648.02" font-size="5" fill="#ffffff" stroke="#ffffff" stroke-width="0.15" text-anchor="middle" dominant-baseline="central">32,464</text><rect x="92.75" y="695.40" width="14.50" height="8.20" rx="1.5" fill="#3b4f61" stroke="#e0605e" stroke-width="0.8"/><text x="100.00" y="699.60" font-size="4.8" fill="#ffffff" stroke="#ffffff" stroke-width="0.15" text-anchor="middle" dominant-baseline="central">2.9%</text><text x="100.00" y="710.20" font-size="5" fill="#ffffff" stroke="#ffffff" stroke-width="0.15" text-anchor="middle" dominant-baseline="central" font-weight="bold">22.10</text><rect x="118.60" y="667.01" width="4.20" height="36.89" rx="0" fill="#3cc4d4"/><text x="120.70" y="656.51" font-size="5" fill="#ffffff" stroke="#ffffff" stroke-width="0.15" text-anchor="middle" dominant-baseline="central">26,387</text><rect x="113.45" y="695.40" width="14.50" height="8.20" rx="1.5" fill="#3b4f61" stroke="#e0605e" stroke-width="0.8"/><text x="120.70" y="699.60" font-size="4.8" fill="#ffffff" stroke="#ffffff" stroke-width="0.15" text-anchor="middle" dominant-baseline="central">2.7%</text><text x="120.70" y="710.20" font-size="5" fill="#ffffff" stroke="#ffffff" stroke-width="0.15" text-anchor="middle" dominant-baseline="central" font-weight="bold">23.10</text><rect x="139.30" y="695.30" width="4.20" height="8.60" rx="0" fill="#3cc4d4"/><text x="141.40" y="684.80" font-size="5" fill="#ffffff" stroke="#ffffff" stroke-width="0.15" text-anchor="middle" dominant-baseline="central">6,150</text><rect x="134.15" y="695.40" width="14.50" height="8.20" rx="1.5" fill="#3b4f61" stroke="#e0605e" stroke-width="0.8"/><text x="141.40" y="699.60" font-size="4.8" fill="#ffffff" stroke="#ffffff" stroke-width="0.15" text-anchor="middle" dominant-baseline="central">3.9%</text><text x="141.40" y="710.20" font-size="5" fill="#ffffff" stroke="#ffffff" stroke-width="0.15" text-anchor="middle" dominant-baseline="central" font-weight="bold">24.10</text><rect x="160.00" y="676.26" width="4.20" height="27.64" rx="0" fill="#3cc4d4"/><text x="162.10" y="665.76" font-size="5" fill="#ffffff" stroke="#ffffff" stroke-width="0.15" text-anchor="middle" dominant-baseline="central">19,769</text><rect x="154.85" y="695.40" width="14.50" height="8.20" rx="1.5" fill="#3b4f61" stroke="#e0605e" stroke-width="0.8"/><text x="162.10" y="699.60" font-size="4.8" fill="#ffffff" stroke="#ffffff" stroke-width="0.15" text-anchor="middle" dominant-baseline="central">2.8%</text><text x="162.10" y="710.20" font-size="5" fill="#ffffff" stroke="#ffffff" stroke-width="0.15" text-anchor="middle" dominant-baseline="central" font-weight="bold">25.10</text><rect x="180.70" y="695.03" width="4.20" height="8.87" rx="0" fill="#3cc4d4"/><text x="182.80" y="684.53" font-size="5" fill="#ffffff" stroke="#ffffff" stroke-width="0.15" text-anchor="middle" dominant-baseline="central">6,344</text><rect x="178.30" y="695.40" width="9.00" height="8.20" rx="1.5" fill="#3b4f61" stroke="#e0605e" stroke-width="0.8"/><text x="182.80" y="699.60" font-size="4.8" fill="#ffffff" stroke="#ffffff" stroke-width="0.15" text-anchor="middle" dominant-baseline="central">1%</text><text x="182.80" y="710.20" font-size="5" fill="#ffffff" stroke="#ffffff" stroke-width="0.15" text-anchor="middle" dominant-baseline="central" font-weight="bold">26.10</text><text x="124.60" y="717.90" font-size="5" fill="#ffffff" stroke="#ffffff" stroke-width="0.15" text-anchor="middle" direction="rtl" dominant-baseline="central">תאריך הבדיקה</text><text x="437.00" y="600.40" font-size="6" fill="#ffffff" stroke="#ffffff" stroke-width="0.15" text-anchor="start" direction="rtl" dominant-baseline="central" font-weight="bold">סטטוס בתי החולים</text><rect x="209.00" y="612.30" width="235.90" height="12.70" rx="0" fill="#2f4255"/><text x="444.00" y="618.30" font-size="5.4" fill="#ffffff" stroke="#ffffff" stroke-width="0.15" text-anchor="start" direction="rtl" dominant-baseline="central">בית חולים</text><text x="353.00" y="618.40" font-size="5.2" fill="#ffffff" stroke="#ffffff" stroke-width="0.15" text-anchor="middle" direction="rtl" dominant-baseline="central">% תפוסה כללי</text><text x="297.00" y="618.40" font-size="5.2" fill="#ffffff" stroke="#ffffff" stroke-width="0.15" text-anchor="middle" direction="rtl" dominant-baseline="central">% תפוסת קורונה</text><path d="M274.3 617 L277.3 617 L275.8 618.8 Z" fill="#4aa3e0"/><text x="236.40" y="618.40" font-size="5.2" fill="#ffffff" stroke="#ffffff" stroke-width="0.15" text-anchor="middle" direction="rtl" dominant-baseline="central">צוות בבידוד</text><text x="443.80" y="635.30" font-size="5.4" fill="#ffffff" stroke="#ffffff" stroke-width="0.15" text-anchor="start" direction="rtl" dominant-baseline="central" font-weight="bold">אוגוסטה ויקטוריה</text><rect x="354.50" y="633.70" width="22.20" height="3.60" rx="0" fill="#2a3a49"/><text x="342.00" y="635.30" font-size="5" fill="#6f8396" stroke="#6f8396" stroke-width="0.15" text-anchor="middle" direction="rtl" dominant-baseline="central">לא ידוע</text><rect x="296.50" y="633.70" width="20.00" height="3.60" rx="0" fill="#2a3a49"/><text x="285.00" y="635.30" font-size="5" fill="#6f8396" stroke="#6f8396" stroke-width="0.15" text-anchor="middle" direction="rtl" dominant-baseline="central">לא ידוע</text><text x="236.40" y="635.50" font-size="5.2" fill="#ffffff" stroke="#ffffff" stroke-width="0.15" text-anchor="middle" dominant-baseline="central" font-weight="bold">3</text><text x="443.80" y="655.80" font-size="5.4" fill="#ffffff" stroke="#ffffff" stroke-width="0.15" text-anchor="start" direction="rtl" dominant-baseline="central" font-weight="bold">שערי צדק</text><rect x="354.50" y="654.20" width="22.20" height="3.60" rx="0" fill="#2a3a49"/><rect x="357.04" y="654.20" width="19.66" height="3.60" rx="0" fill="#3cc4d4"/><text x="342.00" y="656.00" font-size="5" fill="#ffffff" stroke="#ffffff" stroke-width="0.15" text-anchor="middle" dominant-baseline="central">88.57%</text><rect x="296.50" y="654.20" width="20.00" height="3.60" rx="0" fill="#2a3a49"/><text x="285.00" y="655.80" font-size="5" fill="#6f8396" stroke="#6f8396" stroke-width="0.15" text-anchor="middle" direction="rtl" dominant-baseline="central">לא ידוע</text><text x="236.40" y="656.00" font-size="5.2" fill="#ffffff" stroke="#ffffff" stroke-width="0.15" text-anchor="middle" dominant-baseline="central" font-weight="bold">16</text><text x="443.80" y="676.30" font-size="5.4" fill="#ffffff" stroke="#ffffff" stroke-width="0.15" text-anchor="start" direction="rtl" dominant-baseline="central" font-weight="bold">אסותא אשדוד</text><rect x="354.50" y="674.70" width="22.20" height="3.60" rx="0" fill="#2a3a49"/><text x="342.00" y="676.30" font-size="5" fill="#6f8396" stroke="#6f8396" stroke-width="0.15" text-anchor="middle" direction="rtl" dominant-baseline="central">לא ידוע</text><rect x="296.50" y="674.70" width="20.00" height="3.60" rx="0" fill="#2a3a49"/><text x="285.00" y="676.30" font-size="5" fill="#6f8396" stroke="#6f8396" stroke-width="0.15" text-anchor="middle" direction="rtl" dominant-baseline="central">לא ידוע</text><text x="236.40" y="676.50" font-size="5.2" fill="#ffffff" stroke="#ffffff" stroke-width="0.15" text-anchor="middle" dominant-baseline="central" font-weight="bold">3</text><text x="443.80" y="696.80" font-size="5.4" fill="#ffffff" stroke="#ffffff" stroke-width="0.15" text-anchor="start" direction="rtl" dominant-baseline="central" font-weight="bold">בני ציון</text><rect x="354.50" y="695.20" width="22.20" height="3.60" rx="0" fill="#2a3a49"/><rect x="360.55" y="695.20" width="16.15" height="3.60" rx="0" fill="#3cc4d4"/><text x="342.00" y="697.00" font-size="5" fill="#ffffff" stroke="#ffffff" stroke-width="0.15" text-anchor="middle" dominant-baseline="central">72.75%</text><rect x="296.50" y="695.20" width="20.00" height="3.60" rx="0" fill="#2a3a49"/><text x="285.00" y="696.80" font-size="5" fill="#6f8396" stroke="#6f8396" stroke-width="0.15" text-anchor="middle" direction="rtl" dominant-baseline="central">לא ידוע</text><text x="236.40" y="697.00" font-size="5.2" fill="#ffffff" stroke="#ffffff" stroke-width="0.15" text-anchor="middle" dominant-baseline="central" font-weight="bold">25</text><text x="443.80" y="717.30" font-size="5.4" fill="#ffffff" stroke="#ffffff" stroke-width="0.15" text-anchor="start" direction="rtl" dominant-baseline="central" font-weight="bold">ברזילי</text><rect x="354.50" y="715.70" width="22.20" height="3.60" rx="0" fill="#2a3a49"/><rect x="363.45" y="715.70" width="13.25" height="3.60" rx="0" fill="#3cc4d4"/><text x="342.00" y="717.50" font-size="5" fill="#ffffff" stroke="#ffffff" stroke-width="0.15" text-anchor="middle" dominant-baseline="central">59.67%</text><rect x="296.50" y="715.70" width="20.00" height="3.60" rx="0" fill="#2a3a49"/><text x="285.00" y="717.30" font-size="5" fill="#6f8396" stroke="#6f8396" stroke-width="0.15" text-anchor="middle" direction="rtl" dominant-baseline="central">לא ידוע</text><text x="236.40" y="717.50" font-size="5.2" fill="#ffffff" stroke="#ffffff" stroke-width="0.15" text-anchor="middle" dominant-baseline="central" font-weight="bold">9</text><text x="579.10" y="601.10" font-size="6" fill="#ffffff" stroke="#ffffff" stroke-width="0.15" text-anchor="start" direction="rtl" dominant-baseline="central" font-weight="bold">אנשי צוות בריאות בבידוד</text><path d="M522.60 640.40 A22.6 22.6 0 0 1 544.31 669.29" fill="none" stroke="#f07e62" stroke-width="5.5"/><path d="M544.31 669.29 A22.6 22.6 0 0 1 532.01 683.55" fill="none" stroke="#2fc6d6" stroke-width="5.5"/><path d="M532.01 683.55 A22.6 22.6 0 1 1 522.60 640.40" fill="none" stroke="#94e27b" stroke-width="5.5"/><text x="522.70" y="659.30" font-size="12.5" fill="#ffffff" stroke="#ffffff" stroke-width="0.15" text-anchor="middle" dominant-baseline="central" font-weight="bold">885</text><text x="522.70" y="668.60" font-size="5" fill="#a9b8c6" stroke="#a9b8c6" stroke-width="0.15" text-anchor="middle" direction="rtl" dominant-baseline="central">סה״כ</text><path d="M545.5 648 Q549 643 556.8 643" fill="none" stroke="#9aa9b6" stroke-width="0.5"/><path d="M537.5 680.5 Q541 683 561.7 683.3" fill="none" stroke="#9aa9b6" stroke-width="0.5"/><path d="M497.8 669 Q492 670 484 670" fill="none" stroke="#9aa9b6" stroke-width="0.5"/><text x="581.90" y="638.50" font-size="6.4" fill="#ffffff" stroke="#ffffff" stroke-width="0.15" text-anchor="start" direction="rtl" dominant-baseline="central">אחיות</text><text x="572.60" y="646.20" font-size="5.7" fill="#f07e62" stroke="#f07e62" stroke-width="0.15" text-anchor="middle" dominant-baseline="central" font-weight="bold">261</text><text x="581.90" y="677.70" font-size="6.6" fill="#ffffff" stroke="#ffffff" stroke-width="0.15" text-anchor="start" direction="rtl" dominant-baseline="central">רופאים</text><text x="570.70" y="685.80" font-size="5.7" fill="#3cc4d4" stroke="#3cc4d4" stroke-width="0.15" text-anchor="middle" dominant-baseline="central" font-weight="bold">121</text><text x="473.80" y="661.40" font-size="5.3" fill="#ffffff" stroke="#ffffff" stroke-width="0.15" text-anchor="middle" direction="rtl" dominant-baseline="central">מקצועות</text><text x="473.60" y="666.90" font-size="5.3" fill="#ffffff" stroke="#ffffff" stroke-width="0.15" text-anchor="middle" direction="rtl" dominant-baseline="central">אחרים</text><text x="473.50" y="675.00" font-size="5.7" fill="#94e27b" stroke="#94e27b" stroke-width="0.15" text-anchor="middle" dominant-baseline="central" font-weight="bold">503</text><circle cx="469.3" cy="649.3" r="3" fill="none" stroke="#2f6f80" stroke-width="0.7"/></svg>
<!--/OV-->
</body>
</html>
